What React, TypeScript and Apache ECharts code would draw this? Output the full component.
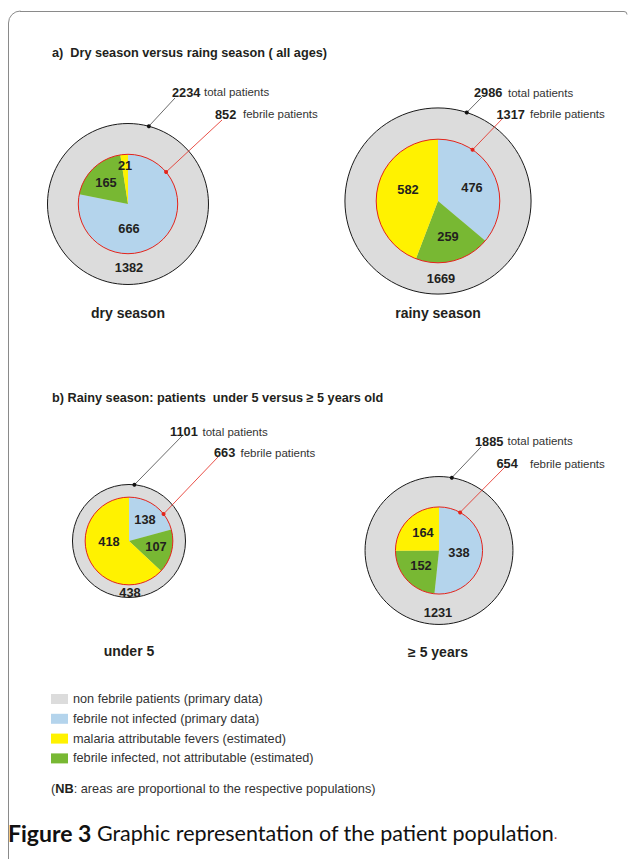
import React, { useEffect, useRef } from "react";
import * as echarts from "echarts";

// ---------- data ----------
const groups = ["dry season", "rainy season", "under 5", "≥ 5 years"];
const totalPatients = [2234, 2986, 1101, 1885];
const febrilePatients = [852, 1317, 663, 654];
const nonFebrile = [1382, 1669, 438, 1231];
const febrileNotInfected = [666, 476, 138, 338];
const febrileInfectedNotAttr = [165, 259, 107, 152];
const malariaAttributable = [21, 582, 418, 164];

const legendNames = [
  "non febrile patients (primary data)",
  "febrile not infected (primary data)",
  "malaria attributable fevers (estimated)",
  "febrile infected, not attributable (estimated)",
];
const sectionTitles = [
  "a)  Dry season versus raing season ( all ages)",
  "b) Rainy season: patients  under 5 versus \u2265 5 years old",
];

// ---------- style / layout ----------
const FONT = "Liberation Sans, Arial, sans-serif";
const CAP_FONT = "Lato, Open Sans, sans-serif";
const C_GRAY = "#dcdcdc";
const C_BLUE = "#b4d4ec";
const C_YELLOW = "#fff200";
const C_GREEN = "#78b833";
const C_RED = "#e3241b";
const C_TEXT = "#231f20";
const K = 80.5 / Math.sqrt(2234); // px per sqrt(patient): areas proportional

const layout = [
  {
    c: [128, 204], labels: [[129, 228], [106, 182], [125, 165]], outerLbl: [129, 267], title: [128, 313],
    blackAng: 15, redAng: 50, blackEnd: [175, 98], redEnd: [222, 120],
    totLbl: [172, 92, 204], febLbl: [215, 114, 243],
  },
  {
    c: [438, 201], labels: [[472, 187.5], [448, 236], [408, 189]], outerLbl: [441, 278], title: [438, 313],
    blackAng: 18, redAng: 34, blackEnd: [482, 97], redEnd: [503, 118],
    totLbl: [474, 92.5, 508], febLbl: [496.5, 114, 530],
  },
  {
    c: [129, 541], labels: [[145, 519.5], [156, 546], [109, 541]], outerLbl: [130, 592], title: [129, 651],
    blackAng: 5.5, redAng: 52, blackEnd: [183, 435], redEnd: [218, 457],
    totLbl: [170, 431.5, 202.5], febLbl: [214, 452.5, 240.5],
  },
  {
    c: [439, 550.5], labels: [[459, 552], [421, 565], [423, 532]], outerLbl: [438, 612], title: [438, 652],
    blackAng: 10, redAng: 29, blackEnd: [481, 447], redEnd: [505, 467],
    totLbl: [475, 441, 507.5], febLbl: [496.5, 463.5, 530],
  },
];

function txt(x: number, y: number, text: string, size: number, bold: boolean, fill: string, align = "left", extra: any = {}) {
  return {
    type: "text", x, y, z: 100, silent: true,
    style: {
      text, fontSize: size, fontWeight: bold ? "bold" : "normal", fontFamily: FONT,
      fill, align, verticalAlign: "middle", ...extra,
    },
  };
}

function buildOption() {
  const series: any[] = [];
  const graphic: any[] = [];

  // frame
  graphic.push(
    { type: "line", shape: { x1: 8.5, y1: 23, x2: 8.5, y2: 859 }, style: { stroke: "#8a8a8a", lineWidth: 1 }, silent: true },
    { type: "line", shape: { x1: 20, y1: 11.5, x2: 624, y2: 11.5 }, style: { stroke: "#8a8a8a", lineWidth: 1 }, silent: true },
    { type: "arc", shape: { cx: 20.5, cy: 23, r: 12, startAngle: Math.PI, endAngle: Math.PI * 1.5 }, style: { stroke: "#8a8a8a", lineWidth: 1, fill: "none" }, silent: true },
    { type: "arc", shape: { cx: 624, cy: 14.5, r: 3, startAngle: Math.PI * 1.5, endAngle: Math.PI * 2 }, style: { stroke: "#8a8a8a", lineWidth: 1, fill: "none" }, silent: true }
  );

  // section titles
  graphic.push(txt(52, 53, sectionTitles[0], 12.7, true, C_TEXT), txt(52, 398, sectionTitles[1], 12.7, true, C_TEXT));

  groups.forEach((g, i) => {
    const L = layout[i];
    const R = K * Math.sqrt(totalPatients[i]);
    const r = K * Math.sqrt(febrilePatients[i]);
    series.push({
      type: "pie", name: g + " total", center: L.c, radius: [0, R], silent: true,
      label: { show: false }, labelLine: { show: false }, startAngle: 90,
      itemStyle: { color: C_GRAY, borderColor: "#1a1a1a", borderWidth: 1 },
      data: [{ name: legendNames[0], value: nonFebrile[i] }],
    });
    series.push({
      type: "pie", name: g + " febrile", center: L.c, radius: [0, r], silent: true,
      startAngle: 90, clockwise: true, label: { show: false }, labelLine: { show: false },
      itemStyle: { borderWidth: 0 },
      data: [
        { name: legendNames[1], value: febrileNotInfected[i], itemStyle: { color: C_BLUE } },
        { name: legendNames[3], value: febrileInfectedNotAttr[i], itemStyle: { color: C_GREEN } },
        { name: legendNames[2], value: malariaAttributable[i], itemStyle: { color: C_YELLOW } },
      ],
    });
    series.push({
      type: "pie", name: g + " ring", center: L.c, radius: [0, r], silent: true,
      label: { show: false }, labelLine: { show: false }, startAngle: 90,
      itemStyle: { color: "rgba(0,0,0,0)", borderColor: C_RED, borderWidth: 1 },
      data: [{ name: "febrile ring", value: febrilePatients[i] }],
    });

    // slice labels
    const vals = [febrileNotInfected[i], febrileInfectedNotAttr[i], malariaAttributable[i]];
    vals.forEach((v, k) => {
      graphic.push(txt(L.labels[k][0], L.labels[k][1], String(v), 12.8, true, C_TEXT, "center"));
    });
    graphic.push(txt(L.outerLbl[0], L.outerLbl[1], String(nonFebrile[i]), 12.8, true, C_TEXT, "center"));
    graphic.push(txt(L.title[0], L.title[1], g, 14, true, C_TEXT, "center"));

    // leader lines
    const ba = (L.blackAng * Math.PI) / 180;
    const ra = (L.redAng * Math.PI) / 180;
    const bp = [L.c[0] + R * Math.sin(ba), L.c[1] - R * Math.cos(ba)];
    const rp = [L.c[0] + r * Math.sin(ra), L.c[1] - r * Math.cos(ra)];
    graphic.push(
      { type: "line", z: 100, shape: { x1: bp[0], y1: bp[1], x2: L.blackEnd[0], y2: L.blackEnd[1] }, style: { stroke: "#444", lineWidth: 0.8 }, silent: true },
      { type: "circle", z: 101, shape: { cx: bp[0], cy: bp[1], r: 2 }, style: { fill: "#111" }, silent: true },
      { type: "line", z: 100, shape: { x1: rp[0], y1: rp[1], x2: L.redEnd[0], y2: L.redEnd[1] }, style: { stroke: C_RED, lineWidth: 0.8 }, silent: true },
      { type: "circle", z: 101, shape: { cx: rp[0], cy: rp[1], r: 2 }, style: { fill: C_RED }, silent: true }
    );
    graphic.push(
      txt(L.totLbl[0], L.totLbl[1], String(totalPatients[i]), 12.8, true, C_TEXT),
      txt(L.totLbl[2], L.totLbl[1], "total patients", 11.5, false, "#333"),
      txt(L.febLbl[0], L.febLbl[1], String(febrilePatients[i]), 12.8, true, C_TEXT),
      txt(L.febLbl[2], L.febLbl[1], "febrile patients", 11.5, false, "#333")
    );
  });

  // NB note
  graphic.push(
    txt(51, 788, "({b|NB}: areas are proportional to the respective populations)", 12.75, false, "#333", "left", {
      rich: { b: { fontWeight: "bold", fontSize: 12.75, fontFamily: FONT, fill: C_TEXT } },
    })
  );

  // caption
  graphic.push({
    type: "text", x: 8, y: 833, silent: true,
    style: {
      text: "{b|Figure 3} {n|Graphic representation of the patient population}{d|.}",
      fontSize: 21.5, fontFamily: CAP_FONT, verticalAlign: "middle",
      rich: {
        b: { fontWeight: "bold", fontSize: 23, fontFamily: CAP_FONT, fill: "#111" },
        n: { fontSize: 21.5, fontFamily: CAP_FONT, fill: "#111" },
        d: { fontSize: 14, fontFamily: CAP_FONT, fill: "#b03030" },
      },
    },
  });

  return {
    animation: false,
    backgroundColor: "#ffffff",
    legend: {
      left: 51, top: 692, orient: "vertical", icon: "rect", padding: 0,
      itemWidth: 17, itemHeight: 10, itemGap: 5.8,
      selectedMode: false,
      itemStyle: { borderWidth: 0 },
      textStyle: { fontSize: 12.7, fontFamily: FONT, color: "#333", lineHeight: 14 },
      data: legendNames.map((n) => ({ name: n })),
    },
    series,
    graphic,
  };
}

export default function App() {
  const ref = useRef<HTMLDivElement>(null);
  useEffect(() => {
    if (!ref.current) return;
    const chart = echarts.init(ref.current, undefined, { renderer: "svg" });
    chart.setOption(buildOption() as any);
    return () => chart.dispose();
  }, []);
  return (
    <div
      ref={ref}
      style={{ position: "fixed", left: 0, top: 0, width: 628, height: 859, background: "#fff" }}
    />
  );
}
